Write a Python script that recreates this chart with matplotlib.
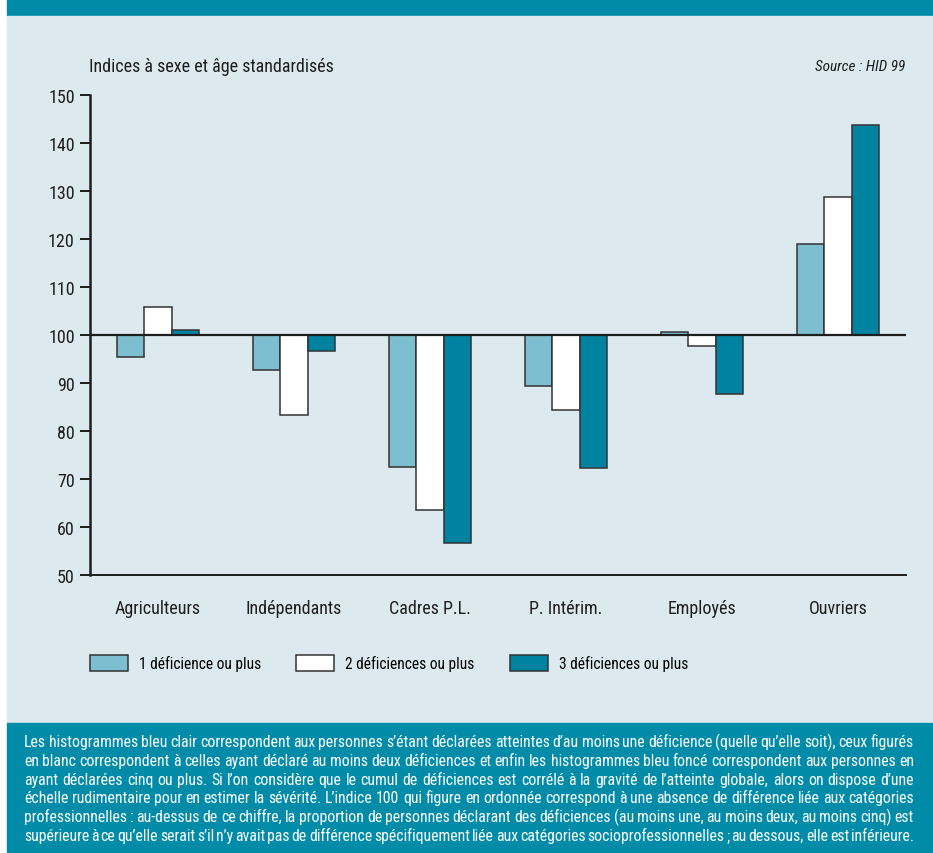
import matplotlib
matplotlib.use("Agg")
import matplotlib.pyplot as plt
import numpy as np
from matplotlib import font_manager
from matplotlib.patches import Rectangle

# données (indices à sexe et âge standardisés, base 100)
categories = ["Agriculteurs", "Indépendants", "Cadres P.L.", "P. Intérim.", "Employés", "Ouvriers"]
series = ["1 déficience ou plus", "2 déficiences ou plus", "3 déficiences ou plus"]
val_1 = [95.4, 92.8, 72.6, 89.3, 100.7, 119.0]
val_2 = [105.8, 83.3, 63.6, 84.4, 97.7, 128.7]
val_3 = [101.1, 96.7, 56.7, 72.2, 87.8, 143.8]
yticks = [50, 60, 70, 80, 90, 100, 110, 120, 130, 140, 150]
base = 100

notes = [
    "Les histogrammes bleu clair correspondent aux personnes s’étant déclarées atteintes d’au moins une déficience (quelle qu’elle soit), ceux figurés",
    "en blanc correspondent à celles ayant déclaré au moins deux déficiences et enfin les histogrammes bleu foncé correspondent aux personnes en",
    "ayant déclarées cinq ou plus. Si l’on considère que le cumul de déficiences est corrélé à la gravité de l’atteinte globale, alors on dispose d’une",
    "échelle rudimentaire pour en estimer la sévérité. L’indice 100 qui figure en ordonnée correspond à une absence de différence liée aux catégories",
    "professionnelles : au-dessus de ce chiffre, la proportion de personnes déclarant des déficiences (au moins une, au moins deux, au moins cinq) est",
    "supérieure à ce qu’elle serait s’il n’y avait pas de différence spécifiquement liée aux catégories socioprofessionnelles ; au dessous, elle est inférieure.",
]

TEAL = "#008CA8"
BG = "#DCEAF0"
colors = ["#7DBFD0", "#FFFFFF", "#0083A0"]
INK = "#1E1E1E"

# police étroite si dispo, sinon Liberation Sans
names = {f.name for f in font_manager.fontManager.ttflist}
NARROW = next((n for n in ["Roboto Condensed", "Archivo Narrow", "Asap Condensed", "Liberation Sans Narrow"]
               if n in names), "Liberation Sans")
plt.rcParams["font.family"] = [NARROW, "DejaVu Sans"]

W, H = 933, 854
fig = plt.figure(figsize=(W / 100, H / 100), dpi=100)
fig.patch.set_facecolor("white")

def px_rect(x0, y0, x1, y1, color):
    fig.patches.append(Rectangle((x0 / W, 1 - y1 / H), (x1 - x0) / W, (y1 - y0) / H,
                                 transform=fig.transFigure, color=color, zorder=-10))

px_rect(7, 0, 932, 17, TEAL)
px_rect(7, 17, 932, 724, BG)
px_rect(7, 724, 932, 853, TEAL)

ax = fig.add_axes([90 / W, 1 - 576 / H, 816 / W, 480 / H])
ax.set_facecolor("none")
x = np.arange(len(categories))
w = 0.2
for i, (vals, lab) in enumerate(zip([val_1, val_2, val_3], series)):
    h = np.array(vals) - base
    ax.bar(x + (i - 1) * w, h, w, bottom=base, color=colors[i], edgecolor="#333333",
           linewidth=1.1, label=lab, zorder=2)
ax.axhline(base, color=INK, lw=1.6, zorder=3)

ax.set_xlim(-0.5, 5.5)
ax.set_ylim(50, 150)
ax.set_yticks(yticks)
ax.set_xticks(x)
ax.set_xticklabels(categories, fontsize=13)
ax.tick_params(axis="x", length=0, pad=17, colors=INK)
ax.tick_params(axis="y", length=7, width=1.4, pad=4, labelsize=13, colors=INK)
for s in ["top", "right"]:
    ax.spines[s].set_visible(False)
ax.spines["left"].set_linewidth(1.8)
ax.spines["bottom"].set_linewidth(1.4)
ax.spines["left"].set_color(INK)
ax.spines["bottom"].set_color(INK)

fig.text(89 / W, 1 - 67 / H, "Indices à sexe et âge standardisés", fontsize=13, color=INK, va="center")
fig.text(905 / W, 1 - 67 / H, "Source : HID 99", fontsize=11, style="italic", color=INK,
         va="center", ha="right")

handles, labels = ax.get_legend_handles_labels()
fig.legend(handles, labels, loc="center left", bbox_to_anchor=(90 / W, 1 - 664 / H), ncol=3,
           frameon=False, fontsize=11.2, handlelength=2.45, handleheight=1.3, handletextpad=0.7,
           columnspacing=2.25, borderpad=0, borderaxespad=0)

# note du bas, justifiée mot à mot (alignement sur la ligne de base)
renderer = fig.canvas.get_renderer()
x_left, x_right = 24, 914
for k, line in enumerate(notes):
    yk = 1 - (747 + k * 18.8) / H
    words = line.split(" ")
    txts = [fig.text(0, yk, wd, fontsize=11.3, color="white", va="baseline") for wd in words]
    widths = [t.get_window_extent(renderer).width for t in txts]
    gap = (x_right - x_left - sum(widths)) / (len(words) - 1)
    xc = x_left
    for t, wd in zip(txts, widths):
        t.set_x(xc / W)
        xc += wd + gap

fig.savefig("out.png", dpi=100)
